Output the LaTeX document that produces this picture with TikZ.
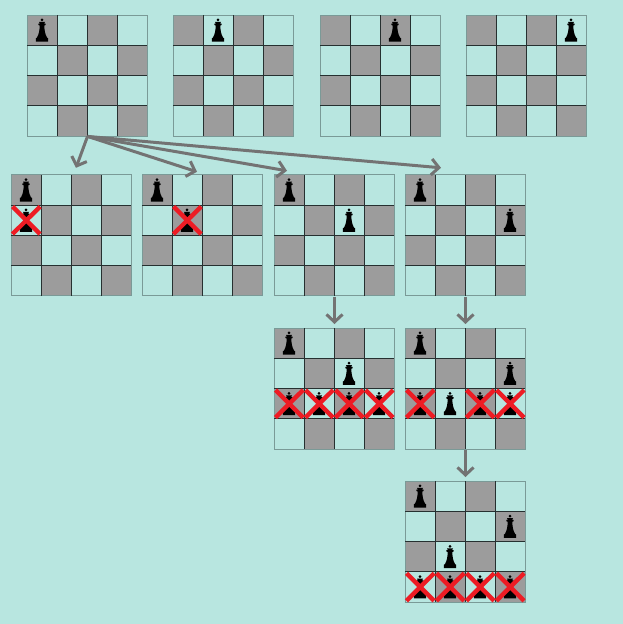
\documentclass[tikz,border=0pt]{standalone}
\usepackage{xcolor}
\usetikzlibrary{arrows.meta}
\definecolor{bgteal}{HTML}{B8E6E0}
\definecolor{darksq}{HTML}{9C9C9C}
\definecolor{gridln}{HTML}{263030}
\definecolor{edgeln}{HTML}{7A9A97}
\definecolor{arrowln}{HTML}{737373}
\definecolor{crossred}{HTML}{ED1C24}
\tikzset{
  boardnode/.style={anchor=north west, inner sep=0pt, minimum width=120.6pt, minimum height=121pt},
  darkcell/.style={fill=darksq},
  gridline/.style={draw=gridln, line width=0.8pt},
  edgeline/.style={draw=edgeln, line width=1pt},
  move/.style={draw=arrowln, line width=3pt, -{Straight Barb[length=7.5pt,width=16pt]}},
  down/.style={move, shorten >=4pt, shorten <=1pt},
  crossline/.style={draw=crossred, line width=4.4pt},
  pics/queen/.style={code={
    \path[fill=black,x=1pt,y=-1pt] (0,-10.3) circle[radius=1.5];
    \path[fill=black,x=1pt,y=-1pt] (-3,-8.2) -- (3,-8.2) -- (2.2,-6.6) -- (3.6,-6.4) -- (3.6,-5) -- (2.3,-4.8)
      .. controls (2.4,0) and (3,4) .. (5,7.4) -- (6.2,8.2) -- (6.2,11.6) -- (-6.2,11.6) -- (-6.2,8.2) -- (-5,7.4)
      .. controls (-3,4) and (-2.4,0) .. (-2.3,-4.8) -- (-3.6,-5) -- (-3.6,-6.4) -- (-2.2,-6.6) -- cycle;
  }}
}

\begin{document}
\begin{tikzpicture}[x=1pt,y=-1pt]
  \useasboundingbox[fill=bgteal] (0,0) rectangle (623,624);

  % name / left / top / queens (col/row) / crossed squares (col/row)
  \foreach \bname/\bx/\by/\queens/\crosses in {
    top1/27/15/{0/0}/{},
    top2/173/15/{1/0}/{},
    top3/320/15/{2/0}/{},
    top4/466/15/{3/0}/{},
    mid1/11/174.8/{0/0,0/1}/{0/1},
    mid2/142/174.8/{0/0,1/1}/{1/1},
    mid3/274/174.8/{0/0,2/1}/{},
    mid4/405/174.8/{0/0,3/1}/{},
    low1/274/328/{0/0,2/1,0/2,1/2,2/2,3/2}/{0/2,1/2,2/2,3/2},
    low2/405/328/{0/0,3/1,0/2,1/2,2/2,3/2}/{0/2,2/2,3/2},
    end1/405/481/{0/0,3/1,1/2,0/3,1/3,2/3,3/3}/{0/3,1/3,2/3,3/3}%
  }{
    \begin{scope}[shift={(\bx,\by)},x=30pt,y=-30.25pt]
      \node[boardnode] (\bname) at (0,0) {};
      \foreach \r in {0,...,3}
        \foreach \c in {0,...,3} {
          \pgfmathparse{int(mod(\r+\c,2))}
          \ifnum\pgfmathresult=0
            \fill[darkcell] (\c,\r) rectangle ++(1,1);
          \fi
        }
      \draw[edgeline] (0,0) rectangle (4,4);
      \foreach \k in {1,2,3} {
        \draw[gridline] (\k,0) -- (\k,4);
        \draw[gridline] (0,\k) -- (4,\k);
      }
      \foreach \c/\r in \queens
        \pic at (\c+0.5,\r+0.5) {queen};
      \foreach \c/\r in \crosses {
        \draw[crossline] (\c+0.05,\r+0.05) -- (\c+0.97,\r+0.96);
        \draw[crossline] (\c+0.05,\r+0.96) -- (\c+0.97,\r+0.05);
      }
    \end{scope}
  }

  \coordinate (tip1) at ([shift={(65,-7)}]mid1.north west);
  \coordinate (tip2) at ([shift={(55,-3)}]mid2.north west);
  \coordinate (tip3) at ([shift={(13,-4)}]mid3.north west);
  \coordinate (tip4) at ([shift={(36,-7)}]mid4.north west);

  \draw[move] (top1.south) -- (tip1);
  \draw[move] (top1.south) -- (tip2);
  \draw[move] (top1.south) -- (tip3);
  \draw[move] (top1.south) -- (tip4);

  \draw[down] (mid3.south) -- (low1.north);
  \draw[down] (mid4.south) -- (low2.north);
  \draw[down] (low2.south) -- (end1.north);
\end{tikzpicture}
\end{document}
